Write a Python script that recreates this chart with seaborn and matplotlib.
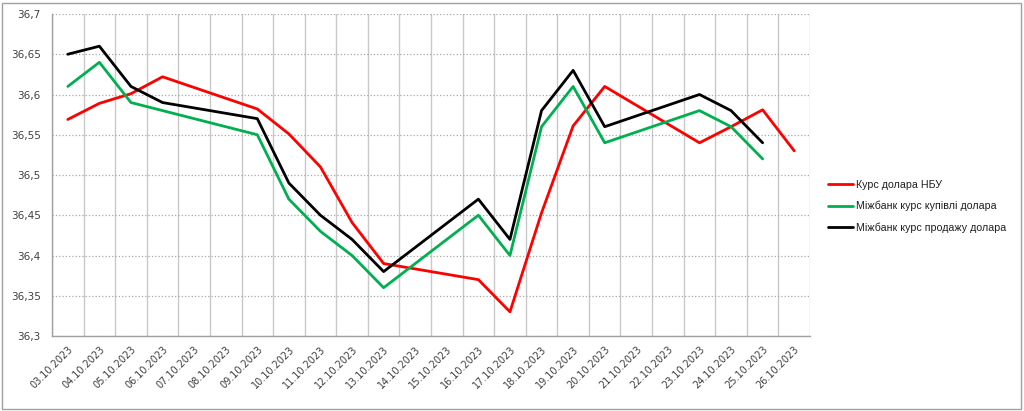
# -*- coding: utf-8 -*-

# Package Loading
import matplotlib
matplotlib.use("Agg")
import matplotlib.pyplot as plt
import matplotlib.patches as patches
import numpy as np
import pandas as pd
import seaborn as sns

# Data (None = no quote on that day, the line simply joins over it)
dates = ["03.10.2023", "04.10.2023", "05.10.2023", "06.10.2023", "07.10.2023",
         "08.10.2023", "09.10.2023", "10.10.2023", "11.10.2023", "12.10.2023",
         "13.10.2023", "14.10.2023", "15.10.2023", "16.10.2023", "17.10.2023",
         "18.10.2023", "19.10.2023", "20.10.2023", "21.10.2023", "22.10.2023",
         "23.10.2023", "24.10.2023", "25.10.2023", "26.10.2023"]

nbu = [36.569, 36.589, 36.601, 36.622, None, None, 36.582, 36.551, 36.510, 36.441,
       36.390, None, None, 36.370, 36.330, 36.453, 36.561, 36.610, None, None,
       36.540, 36.560, 36.581, 36.530]
buy = [36.61, 36.64, 36.59, 36.58, None, None, 36.55, 36.47, 36.43, 36.40,
       36.36, None, None, 36.45, 36.40, 36.56, 36.61, 36.54, None, None,
       36.58, 36.56, 36.52, None]
sell = [36.65, 36.66, 36.61, 36.59, None, None, 36.57, 36.49, 36.45, 36.42,
        36.38, None, None, 36.47, 36.42, 36.58, 36.63, 36.56, None, None,
        36.60, 36.58, 36.54, None]

names = ["Курс долара НБУ", "Міжбанк курс купівлі долара", "Міжбанк курс продажу долара"]
colors = ["#ff0000", "#00b050", "#000000"]

# Reshape to tidy data
rows = []
for name, vals in zip(names, [nbu, buy, sell]):
	for i, v in enumerate(vals):
		if v is not None:
			rows.append({"pos": i, "value": v, "series": name})
df = pd.DataFrame(rows)

# Plot
sns.set_style("white")
plt.rcParams["font.family"] = ["DejaVu Sans"]
fig = plt.figure(figsize=(10.24, 4.11), dpi=100)
ax = fig.add_axes([52 / 1024, 75 / 411, 758 / 1024, 322 / 411])

sns.lineplot(data=df, x="pos", y="value", hue="series", hue_order=names,
             palette=colors, estimator=None, linewidth=2.0, ax=ax)

ax.set_xlim(-0.5, len(dates) - 0.5)
ax.set_ylim(36.3, 36.7)
ax.set_xticks(range(len(dates)))
ax.set_xticklabels(dates, rotation=45, ha="right", rotation_mode="anchor",
                   fontsize=7, color="#404040")
ax.set_xticks(np.arange(-0.5, len(dates)), minor=True)
ax.set_yticks(np.arange(36.3, 36.701, 0.05))
ax.set_yticklabels([f"{v:.2f}".rstrip("0").rstrip(".").replace(".", ",")
                    for v in np.arange(36.3, 36.701, 0.05)],
                   fontsize=7.5, color="#404040")
ax.set_xlabel("")
ax.set_ylabel("")

ax.tick_params(axis="x", which="major", length=0, pad=6)
ax.tick_params(axis="x", which="minor", length=4, color="#a0a0a0", width=1)
ax.tick_params(axis="y", which="major", length=4, color="#a0a0a0", width=1, pad=4)
ax.grid(True, which="minor", axis="x", color="#c8c8c8", linewidth=1)
ax.grid(True, which="major", axis="y", color="#a8a8a8", linestyle=":", linewidth=0.9)
ax.set_axisbelow(True)
for s in ["top", "right"]:
	ax.spines[s].set_visible(False)
for s in ["left", "bottom"]:
	ax.spines[s].set_color("#a0a0a0")
	ax.spines[s].set_linewidth(1)

# Legend
handles, labels = ax.get_legend_handles_labels()
leg = ax.legend(handles, labels, loc="upper left", bbox_to_anchor=(818 / 1024, 241 / 411),
                bbox_transform=fig.transFigure, frameon=False,
                prop={"family": "Liberation Sans", "size": 7.7},
                handlelength=2.4, handletextpad=0.3, labelspacing=1.05)
for t in leg.get_texts():
	t.set_color("#202020")

# Chart border
fig.add_artist(patches.Rectangle((2 / 1024, 2 / 411), 1019 / 1024, 406 / 411,
                                 transform=fig.transFigure, fill=False,
                                 edgecolor="#a0a0a0", linewidth=1))

plt.savefig("out.png", dpi=100)
plt.close("all")
